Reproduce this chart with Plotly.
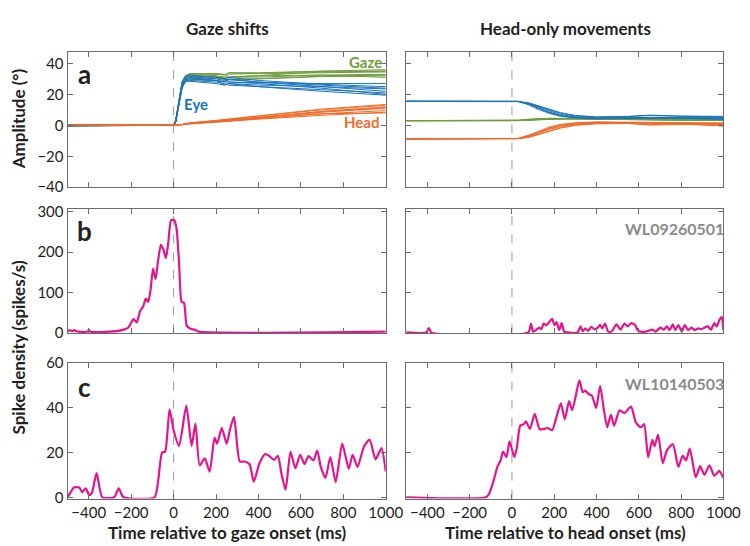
import plotly.graph_objects as go
from plotly.subplots import make_subplots

W, H = 750, 546

# ---------------- data ----------------
# Panel a, gaze shifts (time in ms, amplitude in deg), one list per trial
T_GS = [-500, -300, -100, 0, 10, 25, 40, 55, 75, 200, 240, 260, 400, 700, 1000]
EYE_GS = [
    [0.5, 0.3, 0.2, 0.3, 3, 16, 27, 30, 31.5, 30, 29, 30, 28, 25, 22],
    [0, 0.2, 0, 0.2, 2, 14, 26, 31, 32, 31, 30, 28, 27, 24, 20],
    [-0.5, -0.3, 0, 0.1, 2.5, 15, 25, 29, 30, 29, 28, 29.5, 28, 26, 24],
    [0.3, 0, 0.2, 0.4, 3, 17, 28, 31.5, 32.5, 31, 30, 31, 29, 26.5, 25],
    [0, 0.1, 0.3, 0.2, 2, 13, 24, 28, 28.5, 27, 26, 27, 26, 25, 23.5],
    [0.2, 0, 0, 0.1, 2.5, 15, 27, 30.5, 31, 29, 26, 27, 25, 22, 19.5],
    [-0.3, 0, 0.1, 0.2, 3, 16, 26, 29.5, 30, 29, 28, 28, 27.5, 27, 27],
    [0, 0.2, 0.1, 0.3, 2, 14, 25, 28.5, 29, 28, 27, 26, 25, 23, 21],
]
HEAD_GS = [
    [0, 0, 0, 0, 0.1, 0.3, 0.6, 1.0, 1.5, 3.0, 3.6, 4.0, 6.0, 10.0, 13.0],
    [0, 0, 0, 0, 0.1, 0.2, 0.5, 0.8, 1.2, 2.5, 3.0, 3.3, 5.0, 8.5, 11.0],
    [0, 0, 0, 0, 0.1, 0.3, 0.5, 0.9, 1.3, 2.8, 3.3, 3.6, 5.5, 9.0, 12.0],
    [0, 0, 0, 0, 0.1, 0.2, 0.4, 0.7, 1.0, 2.2, 2.6, 2.9, 4.5, 7.5, 9.5],
    [0, 0, 0, 0, 0.1, 0.2, 0.4, 0.6, 0.9, 2.0, 2.4, 2.7, 4.0, 6.5, 8.5],
    [0, 0, 0, 0, 0.1, 0.3, 0.6, 1.0, 1.6, 3.2, 3.8, 4.1, 6.2, 10.5, 13.5],
    [0, 0, 0, 0, 0.1, 0.2, 0.4, 0.7, 1.1, 2.4, 2.8, 3.1, 4.8, 7.5, 8.0],
    [0, 0, 0, 0, 0.1, 0.3, 0.5, 0.8, 1.2, 2.6, 3.1, 3.4, 5.2, 8.8, 11.5],
]
GAZE_GS = [
    [0.5, 0.3, 0.2, 0.3, 3.1, 16.3, 27.6, 31, 33, 33, 32.6, 34, 34, 35, 35],
    [0, 0.2, 0, 0.2, 2.1, 14.2, 26.5, 31.8, 33.2, 33.5, 33, 31.3, 32, 32.5, 31],
    [-0.5, -0.3, 0, 0.1, 2.6, 15.3, 25.5, 29.9, 31.3, 31.8, 31.3, 33.1, 33.5, 35, 36],
    [0.3, 0, 0.2, 0.4, 3.1, 17.2, 28.4, 32.2, 33.5, 33.2, 32.6, 33.9, 33.5, 34, 34.5],
    [0, 0.1, 0.3, 0.2, 2.1, 13.2, 24.4, 28.6, 29.4, 29, 28.4, 29.7, 30, 31.5, 32],
    [0.2, 0, 0, 0.1, 2.6, 15.3, 27.6, 31.5, 32.6, 32.2, 29.8, 31.1, 31.2, 32.5, 33],
    [-0.3, 0, 0.1, 0.2, 3.1, 16.2, 26.4, 30.2, 31.1, 31.4, 30.8, 31.1, 32.3, 34.5, 35],
    [0, 0.2, 0.1, 0.3, 2.1, 14.3, 25.5, 29.3, 30.2, 30.6, 30.1, 29.4, 30.2, 31.8, 32.5],
]

# Panel a, head-only movements
T_HO = [-500, 0, 30, 80, 130, 180, 230, 300, 400, 550, 650, 800, 1000]
EYE_HO = [
    [15.5, 15.5, 15.4, 14.0, 11.5, 9.0, 7.0, 5.5, 4.8, 5.0, 5.2, 5.0, 5.0],
    [15.6, 15.6, 15.5, 13.5, 10.5, 8.0, 6.2, 5.0, 4.5, 4.6, 4.8, 4.7, 4.6],
    [15.4, 15.4, 15.3, 14.3, 12.0, 9.8, 7.8, 6.0, 5.2, 5.6, 6.4, 5.8, 5.5],
    [15.5, 15.5, 15.4, 13.8, 11.0, 8.5, 6.5, 5.2, 4.6, 4.9, 5.0, 4.8, 4.2],
    [15.5, 15.5, 15.5, 14.5, 12.5, 10.2, 8.2, 6.4, 5.5, 5.8, 6.6, 6.0, 5.8],
    [15.6, 15.6, 15.5, 13.2, 10.0, 7.6, 5.8, 4.8, 4.2, 4.4, 4.6, 4.5, 3.8],
]
HEAD_HO = [
    [-8.8, -8.8, -8.6, -7.2, -4.8, -2.5, -0.8, 0.8, 1.6, 1.8, 1.5, 1.3, 1.2],
    [-8.8, -8.8, -8.5, -6.6, -3.8, -1.5, 0.2, 1.4, 2.0, 1.8, 1.5, 1.0, 0.8],
    [-8.7, -8.7, -8.6, -7.6, -5.6, -3.3, -1.4, 0.3, 1.2, 1.4, 0.5, 0.8, 0.6],
    [-8.8, -8.8, -8.5, -7.0, -4.4, -2.0, -0.3, 1.1, 1.8, 1.6, 1.2, 1.0, -0.5],
    [-8.7, -8.7, -8.6, -7.8, -6.0, -3.8, -1.8, 0.0, 1.0, 1.2, 0.2, 0.5, 0.3],
    [-8.8, -8.8, -8.4, -6.3, -3.4, -1.0, 0.6, 1.7, 2.2, 2.0, 1.8, 1.4, 1.6],
]
GAZE_HO = [
    [3.0, 3.0, 3.1, 3.6, 4.0, 4.2, 4.3, 4.2, 4.0, 3.8, 3.7, 3.6, 3.5],
    [3.1, 3.1, 3.2, 3.8, 4.3, 4.5, 4.4, 4.3, 4.1, 3.9, 3.6, 3.4, 3.2],
    [2.9, 2.9, 3.0, 3.4, 3.8, 4.0, 4.2, 4.4, 4.3, 4.2, 4.5, 4.0, 3.8],
    [3.0, 3.0, 3.1, 3.5, 3.9, 4.1, 4.2, 4.1, 3.9, 3.7, 3.5, 3.3, 3.0],
    [3.0, 3.0, 3.0, 3.3, 3.6, 3.9, 4.1, 4.3, 4.4, 4.5, 4.8, 4.3, 4.1],
    [3.1, 3.1, 3.3, 4.0, 4.5, 4.6, 4.5, 4.3, 4.0, 3.7, 3.5, 3.2, 3.3],
]

# Panel b, spike density (spikes/s)
B_LEFT_T = [-500, -490, -478, -468, -458, -448, -405, -400, -392, -300, -235, -212, -189, -174,
            -158, -143, -131, -120, -109, -97, -85, -74, -60, -48, -36, -25, -12, 3, 14, 26,
            38, 49, 62, 80, 100, 118, 1000]
B_LEFT_V = [2, 6, 3, 6, 3, 2, 2, 6, 2, 2, 7, 13, 33, 25,
            53, 65, 84, 76, 104, 159, 133, 175, 218, 206, 185, 224, 279, 280, 258, 171,
            76, 74, 17, 9, 7, 2, 2]
B_RIGHT_T = [-500, -405, -393, -381, 77, 90, 100, 116, 128, 139, 150, 162, 174, 190,
             201, 211, 224, 235, 247, 260, 310, 324, 335, 347, 360, 375, 390, 406, 417, 427,
             440, 455, 471, 494, 514, 532, 548, 563, 582, 594, 610, 633, 664, 679, 702, 718,
             733, 745, 761, 772, 787, 803, 818, 833, 849, 864, 880, 895, 911, 926, 941, 957,
             968, 980, 992, 1000]
B_RIGHT_V = [0, 0, 11, 0, 0, 22, 2, 7, 12, 8, 22, 18, 24, 34,
             18, 26, 6, 23, 2, 0, 0, 15, 3, 10, 4, 14, 8, 12, 19, 10,
             22, 2, 2, 20, 7, 22, 15, 23, 19, 6, 2, 2, 7, 2, 12, 7,
             15, 6, 20, 6, 18, 3, 18, 6, 12, 6, 10, 8, 12, 15, 7, 23,
             15, 30, 39, 6]

# Panel c, spike density (spikes/s)
C_LEFT_T = [-500, -485, -470, -445, -430, -414, -398, -385, -363, -336, -280, -259, -236, -90,
            -74, -54, -40, -19, 0, 26, 60, 85, 103, 123, 147, 170, 193, 205, 227, 250,
            265, 285, 312, 335, 358, 378, 404, 430, 450, 474, 492, 508, 528, 551, 574, 597,
            617, 636, 659, 677, 694, 716, 739, 764, 795, 826, 844, 867, 898, 924, 952, 980, 1000]
C_LEFT_V = [0, 2.3, 4.4, 4.4, 2.3, 4, 1, 2, 10.8, 0, 0, 4, 0, 0,
            6.5, 20, 20.4, 39.4, 30, 23, 41, 23, 33, 14.3, 17.4, 11.5, 26.7, 24, 31, 24,
            30, 36, 16, 16, 14.8, 7, 15, 19.3, 18.6, 16.7, 18.6, 10.8, 3.4, 20.3, 13, 19,
            14.8, 18.4, 16.5, 20.9, 13.6, 8.7, 18, 6.8, 24, 12.8, 19, 13.6, 22.8, 25.8, 17, 22, 11.5]
C_RIGHT_T = [-500, -123, -108, -85, -69, -54, -42, -26, -11, 11, 23, 39, 57, 66, 85, 108,
             131, 150, 170, 190, 208, 231, 250, 270, 285, 301, 319, 335, 347, 363, 378, 398,
             417, 435, 451, 468, 483, 509, 532, 563, 586, 610, 625, 644, 664, 674, 691, 713,
             733, 761, 787, 807, 823, 841, 869, 890, 910, 934, 957, 980, 1000]
C_RIGHT_V = [0, 0, 1.6, 8, 13.6, 16.5, 20.4, 18, 25, 18, 22, 32, 32.8, 34, 30.6, 37.3,
             30.4, 30.6, 31, 30, 35, 42, 35, 43, 39, 45, 52.3, 47, 47.7, 46.2, 45.5, 40,
             49.8, 39, 31.3, 37, 32, 38.9, 37.7, 40.6, 33.5, 31.3, 32.8, 17.9, 25.7, 22.8, 28, 15.3,
             21, 23.8, 13.6, 18.6, 16.5, 21.8, 9, 13.9, 10, 14.3, 9.6, 11.8, 8.7]

X_TICKS = [-400, -200, 0, 200, 400, 600, 800, 1000]
Y_TICKS_A = [-40, -20, 0, 20, 40]
Y_TICKS_B = [0, 100, 200, 300]
Y_TICKS_C = [0, 20, 40, 60]

# ---------------- style ----------------
C_GAZE = "#6f9d3c"
C_EYE = "#1b75bc"
C_HEAD = "#f26a2a"
C_PINK = "#e6148c"
C_AXIS = "#6b6b6b"
FONT = "Lato"
TXT = "#231f20"

fig = make_subplots(rows=3, cols=2)

def add_lines(t, rows_of_values, color, r, c, width=1.0):
    for vals in rows_of_values:
        fig.add_trace(go.Scatter(x=t, y=vals, mode="lines", line=dict(color=color, width=width),
                                 showlegend=False, hoverinfo="skip"), row=r, col=c)

add_lines(T_GS, GAZE_GS, C_GAZE, 1, 1)
add_lines(T_GS, EYE_GS, C_EYE, 1, 1)
add_lines(T_GS, HEAD_GS, C_HEAD, 1, 1)
add_lines(T_HO, GAZE_HO, C_GAZE, 1, 2)
add_lines(T_HO, EYE_HO, C_EYE, 1, 2)
add_lines(T_HO, HEAD_HO, C_HEAD, 1, 2)

for (t, v, r, c) in [(B_LEFT_T, B_LEFT_V, 2, 1), (B_RIGHT_T, B_RIGHT_V, 2, 2),
                     (C_LEFT_T, C_LEFT_V, 3, 1), (C_RIGHT_T, C_RIGHT_V, 3, 2)]:
    fig.add_trace(go.Scatter(x=t, y=v, mode="lines",
                             line=dict(color=C_PINK, width=2.2, shape="spline", smoothing=0.6),
                             showlegend=False, hoverinfo="skip"), row=r, col=c)

# domains in pixel space -> paper
def xd(a, b):
    return [a / W, b / W]

def yd(top, bottom):
    return [1 - bottom / H, 1 - top / H]

XL = xd(61, 387)
XR = xd(408, 733)
ROWS = [yd(35, 175), yd(198, 326), yd(357, 497)]
YRANGES = [[-40, 47.5], [-2, 306], [-0.6, 60]]
YTICKS = [Y_TICKS_A, Y_TICKS_B, Y_TICKS_C]

tickfont = dict(family=FONT, size=15, color=TXT)
layout = {}
idx = 0
for r in range(3):
    for c in range(2):
        idx += 1
        s = "" if idx == 1 else str(idx)
        layout["xaxis" + s] = dict(
            domain=XL if c == 0 else XR, range=[-500, 1000], tickvals=X_TICKS,
            ticks="inside", ticklen=5, tickcolor=C_AXIS, tickwidth=1,
            showline=True, linecolor=C_AXIS, linewidth=1, mirror="ticks",
            showgrid=False, zeroline=False, showticklabels=(r == 2), tickfont=tickfont,
            anchor="y" + s,
        )
        layout["yaxis" + s] = dict(
            domain=ROWS[r], range=YRANGES[r], tickvals=YTICKS[r],
            ticks="inside", ticklen=5, tickcolor=C_AXIS, tickwidth=1,
            showline=True, linecolor=C_AXIS, linewidth=1, mirror="ticks",
            showgrid=False, zeroline=False, showticklabels=(c == 0), tickfont=tickfont,
            anchor="x" + s,
        )
        fig.add_shape(type="line", xref="x" + s, yref="y" + s + " domain",
                      x0=0, x1=0, y0=0, y1=1,
                      line=dict(color="#9a9a9a", width=1, dash="dash"), layer="below")

fig.update_layout(**layout)

def px(x, y):
    return x / W, 1 - y / H

annots = []
def ann(text, x, y, size, color=TXT, bold=True, angle=0, xanchor="center"):
    ax, ay = px(x, y)
    annots.append(dict(text=("<b>%s</b>" % text) if bold else text, x=ax, y=ay,
                       xref="paper", yref="paper", showarrow=False, textangle=angle,
                       xanchor=xanchor, yanchor="middle",
                       font=dict(family=FONT, size=size, color=color)))

ann("Gaze shifts", 225, 11, 17)
ann("Head-only movements", 571, 11, 17)
ann("Amplitude (°)", 11, 104, 17, angle=-90)
ann("Spike density (spikes/s)", 11, 341, 17, angle=-90)
ann("Time relative to gaze onset (ms)", 224, 532, 17)
ann("Time relative to head onset (ms)", 571, 532, 17)
ann("a", 78, 58, 26)
ann("b", 78, 220, 26)
ann("c", 78, 382, 26)
ann("Gaze", 366, 45, 15, color=C_GAZE)
ann("Eye", 193, 89, 15, color=C_EYE)
ann("Head", 362, 108, 15, color=C_HEAD)
ann("WL09260501", 683, 218, 16, color="#8a8a8a")
ann("WL10140503", 683, 378, 16, color="#8a8a8a")

fig.update_layout(
    width=W, height=H, margin=dict(l=0, r=0, t=0, b=0),
    paper_bgcolor="white", plot_bgcolor="white",
    annotations=annots, showlegend=False,
)

fig.write_html("out.html")
